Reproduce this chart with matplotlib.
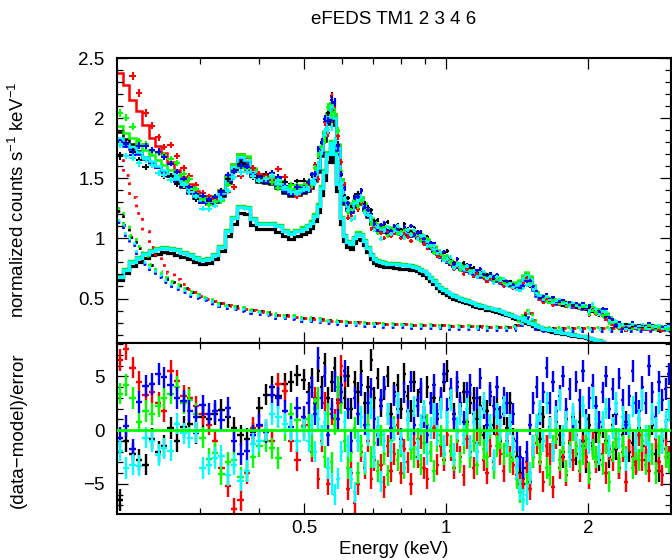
import numpy as np
import matplotlib
matplotlib.use('Agg')
import matplotlib.pyplot as plt
from matplotlib.ticker import FixedLocator, MultipleLocator, FormatStrFormatter, NullFormatter

plt.rcParams['font.family'] = ['Liberation Sans', 'DejaVu Sans']
plt.rcParams['mathtext.fontset'] = 'custom'
plt.rcParams['mathtext.rm'] = 'Liberation Sans'
plt.rcParams['mathtext.default'] = 'regular'

# bin centres (keV)
energy = [0.203, 0.209, 0.216, 0.223, 0.230, 0.237, 0.245, 0.252, 0.260, 0.268,
          0.277, 0.285, 0.294, 0.304, 0.313, 0.323, 0.333, 0.344, 0.354, 0.366,
          0.377, 0.389, 0.401, 0.414, 0.427, 0.440, 0.454, 0.468, 0.483, 0.498,
          0.510, 0.518, 0.526, 0.535, 0.544, 0.552, 0.561, 0.571, 0.580, 0.589,
          0.599, 0.609, 0.619, 0.629, 0.639, 0.649, 0.660, 0.671, 0.682, 0.693,
          0.704, 0.716, 0.727, 0.739, 0.751, 0.763, 0.776, 0.789, 0.801, 0.815,
          0.828, 0.841, 0.855, 0.869, 0.883, 0.897, 0.912, 0.927, 0.942, 0.957,
          0.973, 0.989, 1.005, 1.021, 1.038, 1.055, 1.072, 1.090, 1.107, 1.125,
          1.144, 1.162, 1.181, 1.201, 1.220, 1.240, 1.260, 1.281, 1.302, 1.323,
          1.345, 1.367, 1.389, 1.411, 1.434, 1.458, 1.482, 1.506, 1.530, 1.555,
          1.581, 1.606, 1.633, 1.659, 1.686, 1.714, 1.742, 1.770, 1.799, 1.828,
          1.858, 1.888, 1.919, 1.950, 1.982, 2.014, 2.047, 2.081, 2.115, 2.149,
          2.184, 2.220, 2.256, 2.293, 2.330, 2.368, 2.407, 2.446, 2.486, 2.526,
          2.567, 2.609, 2.652, 2.695, 2.739, 2.784, 2.829, 2.875, 2.922, 2.970]

# source (thermal plasma) component, folded
src_shape = [0.68, 0.74, 0.80, 0.84, 0.87, 0.895, 0.91, 0.92, 0.915, 0.90,
             0.88, 0.86, 0.835, 0.82, 0.83, 0.86, 0.93, 1.06, 1.17, 1.26,
             1.25, 1.16, 1.12, 1.12, 1.12, 1.10, 1.06, 1.04, 1.06, 1.08,
             1.10, 1.13, 1.19, 1.27, 1.42, 1.55, 1.70, 1.79, 1.70, 1.45,
             1.17, 1.02, 0.97, 0.95, 1.00, 1.04, 1.03, 0.98, 0.92, 0.86,
             0.83, 0.81, 0.80, 0.795, 0.79, 0.79, 0.787, 0.785, 0.78, 0.777,
             0.775, 0.77, 0.765, 0.755, 0.74, 0.725, 0.70, 0.67, 0.645, 0.615,
             0.59, 0.57, 0.55, 0.535, 0.52, 0.51, 0.50, 0.49, 0.48, 0.47,
             0.46, 0.45, 0.44, 0.435, 0.425, 0.42, 0.41, 0.405, 0.395, 0.385,
             0.375, 0.365, 0.355, 0.345, 0.335, 0.325, 0.31, 0.30, 0.285, 0.275,
             0.26, 0.25, 0.245, 0.24, 0.235, 0.225, 0.22, 0.215, 0.21, 0.205,
             0.20, 0.195, 0.19, 0.185, 0.18, 0.17, 0.165, 0.155, 0.15, 0.14,
             0.12, 0.09, 0.06, 0.04, 0.03, 0.028, 0.026, 0.025, 0.024, 0.023,
             0.022, 0.021, 0.02, 0.019, 0.018, 0.017, 0.016, 0.015, 0.014, 0.013]

# background: very soft part, soft part, flat instrumental part (Al K line)
bkg_soft1 = [0.525, 0.475, 0.37, 0.325, 0.245, 0.175, 0.145, 0.12, 0.08, 0.055,
             0.04, 0.03, 0.02, 0.01, 0.01, 0.005] + [0.0] * 124
bkg_soft2 = [0.915, 0.805, 0.72, 0.635, 0.565, 0.505, 0.455, 0.41, 0.38, 0.355,
             0.33, 0.30, 0.28, 0.26, 0.24, 0.225, 0.21, 0.195, 0.185, 0.175,
             0.165, 0.155, 0.145, 0.135, 0.125, 0.115, 0.11, 0.105, 0.095, 0.09,
             0.088, 0.085, 0.082, 0.079, 0.076, 0.073, 0.070, 0.067, 0.065, 0.062,
             0.060, 0.058, 0.056, 0.055, 0.053, 0.051, 0.050, 0.048, 0.047, 0.045,
             0.044, 0.043, 0.042, 0.041, 0.040, 0.039, 0.038, 0.037, 0.036, 0.035,
             0.034, 0.033, 0.032, 0.032, 0.031, 0.030, 0.029, 0.029, 0.028, 0.027,
             0.027, 0.026, 0.026, 0.025, 0.025, 0.024, 0.023, 0.022, 0.021, 0.020,
             0.019, 0.018, 0.018, 0.017, 0.016, 0.015, 0.015, 0.014, 0.013, 0.013,
             0.012, 0.012, 0.011, 0.011, 0.010, 0.010, 0.010, 0.009, 0.009, 0.009,
             0.008, 0.008, 0.008, 0.007, 0.007, 0.007, 0.007, 0.006, 0.006, 0.006,
             0.006, 0.006, 0.005, 0.005, 0.005, 0.005, 0.005, 0.005, 0.005, 0.004,
             0.004, 0.004, 0.004, 0.004, 0.004, 0.004, 0.003, 0.003, 0.003, 0.003,
             0.003, 0.003, 0.003, 0.003, 0.003, 0.003, 0.002, 0.002, 0.002, 0.002]
bkg_hard = [0.25] * 92 + [0.255, 0.27, 0.30, 0.35, 0.39, 0.37, 0.31, 0.265] + [0.25] * 40

rel_err = [0.016] * 30 + [0.016] * 42 + [0.02] * 43 + [0.035] * 25

tm_names = ['TM1', 'TM2', 'TM3', 'TM4', 'TM6']
colors = ['#000000', '#ff0000', '#00ff00', '#0000ff', '#00ffff']
src_norm = [0.96, 1.01, 1.01, 1.00, 1.00]
soft1_norm = [0.12, 1.0, 0.15, 0.0, 0.0]
hard_norm = [1.0, 1.0, 1.02, 0.90, 0.96]

# (data-model)/error per TM
resid_tm1 = [-6.5, -1.0, -2.2, -2.8, -3.2, -0.8, -2.0, -1.5, 0.2, -1.0,
             0.3, 0.6, -0.3, 1.2, 1.0, 1.5, 1.9, 1.2, 0.2, -0.5,
             -0.8, -0.2, 2.1, 3.3, 4.0, 3.2, 4.3, 4.5, 5.1, 4.7,
             3.5, 4.8, 2.5, 5.5, 4.0, 6.2, 3.0, 4.5, 5.8, 2.8,
             4.2, 3.0, 5.0, 2.0, 4.5, 3.5, 5.5, 2.5, 4.0, 6.5,
             3.0, 4.8, 2.2, 3.8, 5.0, 1.5, 3.5, 4.2, 2.0, 5.2,
             3.2, 1.8, 4.5, 2.8, 3.5, 1.2, 4.0, 2.5, 3.0, 1.0,
             2.8, 4.5, 5.5, 3.0, 1.5, 4.0, 2.2, 3.5, 0.8, 2.5,
             3.0, 1.0, 2.2, -0.5, 1.8, 3.2, 0.5, 2.0, -1.0, 1.5,
             0.2, 2.5, -0.8, -2.5, -4.0, -5.0, -3.5, -4.8, -1.5, 0.5,
             -0.8, 1.2, -1.5, 0.3, -2.0, 0.8, -0.5, -2.5, 1.0, -1.2,
             0.0, -2.2, 0.8, -1.0, -3.0, 0.5, -1.5, -0.2, -2.8, 0.3,
             -1.0, -2.5, 0.5, -1.8, -3.5, -0.5, 0.8, -2.0, -1.2, -3.0,
             0.2, -1.5, -2.8, -0.5, 0.5, -2.2, -3.8, -1.0, 0.0, -2.5]
resid_tm2 = [6.5, 7.5, 5.8, 4.5, 3.3, 3.5, 2.5, 1.8, 5.5, 4.6,
             3.2, 3.0, 2.2, 1.5, 0.5, -1.0, -3.5, -5.2, -7.3, -6.5,
             -4.0, 0.2, 0.4, 0.0, -1.0, 4.3, 3.6, -1.0, -2.8, 0.4,
             0.5, -2.0, 3.0, -4.5, -1.0, 2.5, -5.0, 1.5, 1.0, 2.5,
             6.0, 5.0, -5.5, -4.0, -6.8, -5.0, -2.0, -3.5, -1.0, -4.5,
             -2.8, -0.5, -3.2, -5.3, -1.5, -3.8, -2.2, 0.5, -4.0, -1.8,
             -3.0, -5.0, -1.2, -2.5, -0.8, -3.5, -4.5, -2.0, 0.2, -3.2,
             -1.5, -2.8, -0.5, -1.9, -3.5, -1.0, -2.5, -4.2, -0.8, -2.0,
             -3.5, -1.2, -0.2, -2.8, -4.0, -1.5, -3.0, -0.5, -2.2, -3.8,
             -1.0, -2.5, -3.2, -4.2, -5.0, -4.5, -3.0, -5.5, -2.5, -1.2,
             -3.0, -4.8, -1.5, -2.2, -5.3, -0.8, -3.5, -2.0, -4.2, -1.0,
             -2.8, -0.5, -3.8, -1.5, -2.5, -4.5, -1.2, -3.0, -0.3, -2.2,
             -4.0, -1.8, -2.8, -0.8, -3.5, -2.0, -4.8, -1.0, -2.5, -3.2,
             -0.5, -2.8, -1.5, -3.8, -2.2, -0.8, -3.0, -4.2, -1.8, -2.5]
resid_tm3 = [3.4, 4.2, 3.0, 0.8, 1.8, 1.5, 2.2, 3.0, 3.4, 4.0,
             2.5, 2.8, 1.5, -0.7, -2.7, -2.1, -4.1, -3.0, -2.8, -4.4,
             -3.8, -2.5, -1.5, -1.0, -1.7, -2.6, 0.0, 1.5, 0.9, 0.3,
             1.0, -1.5, 2.0, 3.0, -0.5, -2.5, 1.5, -3.0, 0.5, 4.0,
             2.5, -1.0, -3.5, -2.0, 0.2, -4.0, -1.5, -3.2, 0.5, -2.5,
             -1.2, -3.8, -0.5, -2.2, -4.2, -1.0, 0.3, -2.8, -1.5, -3.5,
             0.0, -1.8, -2.5, -0.8, -3.2, -1.2, 0.5, -2.0, -3.8, -1.0,
             -0.5, -2.2, 0.8, -1.5, -2.8, -0.2, -3.0, -1.2, 0.5, -2.5,
             -1.0, -3.2, -0.5, -1.8, -2.5, 0.2, -3.5, -1.5, -0.8, -2.2,
             -1.5, -3.0, -2.0, -4.5, -5.8, -6.5, -5.0, -4.0, -2.5, -0.5,
             -2.2, -1.0, -3.5, -4.2, -1.5, -0.3, -2.8, -1.2, -3.8, -2.0,
             0.0, -1.5, -3.0, -2.2, -0.8, -4.0, -1.8, -2.5, -0.5, -3.2,
             -1.2, -4.8, -2.0, -0.8, -3.0, -1.5, -2.5, 0.2, -3.5, -1.8,
             -2.8, -1.0, -3.2, -0.5, -2.2, -4.0, -1.5, -0.8, -2.5, -3.0]
resid_tm4 = [-0.7, 0.4, -1.8, 2.6, 4.1, 4.3, 5.2, 4.9, 4.2, 3.0,
             2.7, 1.8, 1.2, 2.3, 1.5, 1.8, 0.9, 2.1, -1.0, -2.2,
             -1.9, -0.5, 0.5, -0.2, 3.3, 3.0, 1.8, 0.3, 2.1, 1.2,
             2.5, 4.0, 1.5, 6.7, 3.0, 5.0, -0.5, 2.0, 4.5, 1.0,
             3.5, 5.5, 2.0, -1.0, 3.0, 1.5, 4.2, 0.5, 2.5, 3.8,
             1.0, -0.5, 2.8, 4.0, 1.5, 0.2, 3.2, 2.0, -0.8, 3.5,
             1.8, 4.5, 0.5, 2.2, 3.8, 1.2, -0.5, 2.5, 4.2, 1.5,
             3.0, 5.2, 2.0, 3.8, 1.0, 4.5, 2.5, 0.8, 3.5, 4.2,
             1.5, 3.0, 4.8, 2.0, 0.5, 3.5, 2.2, 4.0, 1.2, 3.0,
             2.5, 0.8, 1.5, -1.0, -2.5, -3.5, -2.0, 0.5, 2.5, 4.0,
             1.5, 3.5, 5.8, 2.5, 4.5, 1.8, 3.2, 5.0, 2.0, 3.8,
             1.2, 4.5, 2.8, 5.5, 1.0, 3.0, 4.2, 2.2, 0.8, 3.5,
             5.0, 2.0, 3.8, 1.5, 4.8, 2.8, 0.5, 3.2, 5.5, 2.5,
             1.8, 4.0, 2.5, 6.0, 3.5, 1.2, 4.5, 2.8, 3.8, 5.2]
resid_tm6 = [-1.9, -3.5, -3.2, -3.3, -0.7, -1.0, -2.3, -1.7, -1.9, 0.6,
             -0.3, -0.7, -0.2, -3.5, -3.2, -2.6, -2.4, -4.2, -3.2, -4.7,
             -3.8, -1.3, -1.0, 0.0, 1.5, 1.2, 0.6, 0.0, -1.0, 0.0,
             -1.0, 0.5, -2.0, 1.0, -0.5, 0.8, -3.5, -5.0, -6.0, -4.5,
             -2.0, 0.8, -1.5, -4.5, -5.8, -1.0, 1.2, -3.0, -0.5, 2.0,
             -2.5, 0.3, -4.8, -1.0, 1.5, -2.0, 0.0, 2.5, -1.2, -3.0,
             1.0, -0.8, 2.2, -1.8, 0.5, 1.8, -2.2, 0.2, 1.5, -0.5,
             2.0, -1.5, 0.8, 2.8, -2.2, 0.2, 1.5, -0.5, 2.0, -1.5,
             0.8, -2.0, 1.2, 2.5, -1.0, 0.5, -2.8, 1.5, 0.0, 2.2,
             -1.2, 0.5, -1.5, -3.5, -5.5, -6.5, -6.0, -4.0, -1.5, 0.5,
             1.8, -1.0, 2.5, 0.2, -2.0, 1.2, 2.8, -0.5, 0.8, -2.5,
             1.5, 0.0, -1.8, 2.2, 0.5, -1.2, 3.0, 1.0, -2.2, 0.8,
             2.0, -1.5, 0.2, 2.5, -0.8, 1.2, -2.8, 0.5, 2.2, -1.0,
             1.0, 2.8, -0.5, -2.0, 1.5, 0.2, 2.5, -1.2, 0.8, 1.8]
resid = [resid_tm1, resid_tm2, resid_tm3, resid_tm4, resid_tm6]

E = np.array(energy)
edges = np.concatenate(([0.2], np.sqrt(E[:-1] * E[1:]), [2.99]))
xerr = [E - edges[:-1], edges[1:] - E]

fig = plt.figure(figsize=(6.72, 5.6), dpi=100)
ax1 = fig.add_axes([117 / 672, 1 - 343 / 560, 554 / 672, 285 / 560])
ax2 = fig.add_axes([117 / 672, 1 - 514 / 560, 554 / 672, 171 / 560], sharex=ax1)

for i in range(len(tm_names)):
    c = colors[i]
    src = src_norm[i] * np.array(src_shape)
    bkg = soft1_norm[i] * np.array(bkg_soft1) + np.array(bkg_soft2) + hard_norm[i] * np.array(bkg_hard)
    model = src + bkg
    sig = np.array(rel_err) * model
    r = np.array(resid[i])
    data = model + r * sig

    ax1.errorbar(E, data, xerr=xerr, yerr=sig, fmt='none', ecolor=c, elinewidth=1.5)
    ax1.stairs(model, edges, baseline=None, color=c, lw=1.8)
    ax1.stairs(src, edges, baseline=None, color=c, lw=2.3)
    ax1.stairs(bkg, edges, baseline=None, color=c, lw=2.0, linestyle=(0, (1, 2.5)))

    ax2.errorbar(E, r, xerr=xerr, yerr=1.0, fmt='none', ecolor=c, elinewidth=1.7)

ax2.axhline(0, color='#00ff00', lw=2, zorder=10)

ax1.set_xscale('log')
ax1.set_xlim(0.2, 3.0)
ax1.set_ylim(0.13, 2.5)
ax2.set_ylim(-7.8, 8.1)

for ax in (ax1, ax2):
    ax.xaxis.set_major_locator(FixedLocator([0.5, 1, 2]))
    ax.xaxis.set_minor_locator(FixedLocator([0.3, 0.4, 0.6, 0.7, 0.8, 0.9]))
    ax.xaxis.set_minor_formatter(NullFormatter())
    ax.tick_params(which='both', direction='in', top=True, right=True, labelsize=13.5)
    ax.tick_params(which='major', length=8, width=0.9)
    ax.tick_params(which='minor', length=4.5, width=0.9)
    ax.tick_params(axis='y', pad=9)
    ax.tick_params(axis='x', pad=4)
    for s in ax.spines.values():
        s.set_linewidth(1.5)

ax1.tick_params(labelbottom=False)
ax2.xaxis.set_major_formatter(FormatStrFormatter('%g'))
ax1.yaxis.set_major_locator(MultipleLocator(0.5))
ax1.yaxis.set_minor_locator(MultipleLocator(0.1))
ax1.yaxis.set_major_formatter(FormatStrFormatter('%g'))
ax2.yaxis.set_major_locator(MultipleLocator(5))
ax2.yaxis.set_minor_locator(MultipleLocator(1))

fig.text(394 / 672, 1 - 20 / 560, 'eFEDS TM1 2 3 4 6', ha='center', va='center', fontsize=13.5)
fig.text(394 / 672, 1 - 550 / 560, 'Energy (keV)', ha='center', va='center', fontsize=13.5)
fig.text(18 / 672, 1 - 200 / 560, 'normalized counts s$^{-1}$ keV$^{-1}$', rotation=90,
         ha='center', va='center', fontsize=13.5)
fig.text(18 / 672, 1 - 430 / 560, '(data\u2212model)/error', rotation=90,
         ha='center', va='center', fontsize=13.5)

fig.savefig('out.png', dpi=100)
